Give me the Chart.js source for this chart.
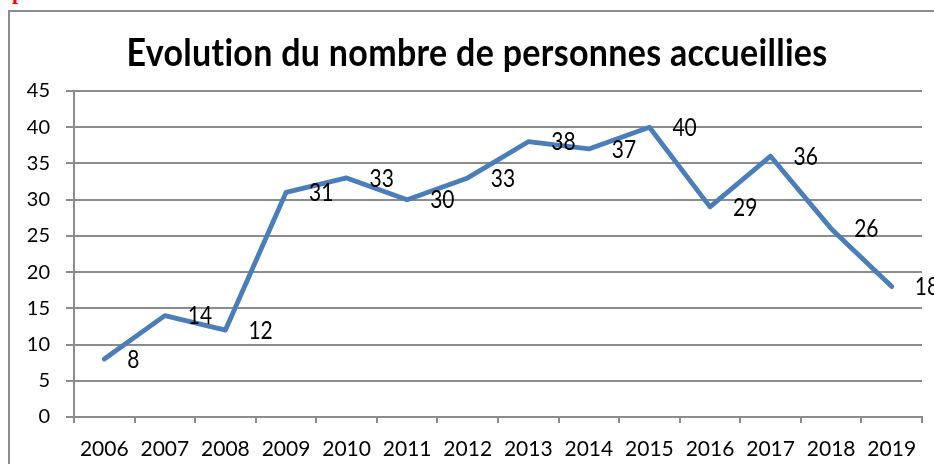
<!DOCTYPE html>
<html lang="fr">
<head>
<meta charset="utf-8">
<title>Evolution du nombre de personnes accueillies</title>
<script src="https://cdn.jsdelivr.net/npm/chart.js@4"></script>
<style>
    html, body { margin: 0; padding: 0; background: #fff; }
    body { width: 934px; height: 464px; position: relative; overflow: hidden; }
    #frame {
        position: absolute; left: 8px; top: 10px; width: 1000px; height: 500px;
        border-left: 2px solid #8c8c8c; border-top: 2px solid #8c8c8c;
    }
    #mark {
        position: absolute; left: 12px; top: -21px;
        font: bold 22px "Liberation Serif", serif; color: #ff0000;
    }
    #chart { position: absolute; left: 0; top: 0; }
</style>
</head>
<body>
<div id="mark">p</div>
<div id="frame"></div>
<canvas id="chart" width="934" height="464"></canvas>
<script>
    // Years on the horizontal axis and number of people welcomed each year
    const years = ['2006', '2007', '2008', '2009', '2010', '2011', '2012',
                   '2013', '2014', '2015', '2016', '2017', '2018', '2019'];
    const persons = [8, 14, 12, 31, 33, 30, 33, 38, 37, 40, 29, 36, 26, 18];
    const yTicks = [0, 5, 10, 15, 20, 25, 30, 35, 40, 45];
    const chartTitle = 'Evolution du nombre de personnes accueillies';

    const lineColor = '#4a7ebb';
    const gridColor = '#8c8c8c';
    const fontFamily = 'Lato, "Open Sans", sans-serif';

    // Title centred above the plot, slightly tall glyphs, no "ti" ligature
    const titleText = {
        id: 'titleText',
        afterDraw(chart) {
            const ctx = chart.ctx;
            ctx.save();
            ctx.font = 'bold 34px ' + fontFamily;
            ctx.letterSpacing = '0.3px';
            ctx.fillStyle = '#000';
            ctx.textAlign = 'center';
            ctx.textBaseline = 'alphabetic';
            ctx.translate(477, 66);
            ctx.scale(1, 1.12);
            ctx.fillText(chartTitle, 0, 0);
            ctx.restore();
        }
    };

    // Writes each value to the right of its point
    const valueLabels = {
        id: 'valueLabels',
        afterDatasetsDraw(chart) {
            const ctx = chart.ctx;
            const meta = chart.getDatasetMeta(0);
            ctx.save();
            ctx.font = '21px ' + fontFamily;
            ctx.fillStyle = '#000';
            ctx.textAlign = 'left';
            ctx.textBaseline = 'middle';
            meta.data.forEach(function(pt, i) {
                ctx.save();
                ctx.translate(pt.x + 23, pt.y + 1);
                ctx.scale(1, 1.15);
                ctx.fillText(String(persons[i]), 0, 0);
                ctx.restore();
            });
            ctx.restore();
        }
    };

    new Chart(document.getElementById('chart'), {
        type: 'line',
        data: {
            labels: years,
            datasets: [{
                data: persons,
                borderColor: lineColor,
                borderWidth: 4.8,
                borderCapStyle: 'round',
                borderJoinStyle: 'round',
                pointRadius: 0,
                pointHoverRadius: 0,
                tension: 0,
                fill: false
            }]
        },
        options: {
            responsive: false,
            animation: false,
            layout: {
                padding: { left: 0, right: 12, top: 91, bottom: 0 }
            },
            plugins: {
                legend: { display: false },
                tooltip: { enabled: false },
                title: { display: false }
            },
            scales: {
                x: {
                    offset: true,
                    grid: {
                        offset: true,
                        drawOnChartArea: false,
                        drawTicks: true,
                        tickLength: 6,
                        color: gridColor,
                        lineWidth: 2
                    },
                    border: { display: true, color: gridColor, width: 2 },
                    ticks: {
                        color: '#000',
                        font: { family: fontFamily, size: 21 },
                        padding: 14,
                        maxRotation: 0,
                        autoSkip: false
                    },
                    afterFit(scale) { scale.height = 47; }
                },
                y: {
                    min: 0,
                    max: 45,
                    afterBuildTicks(scale) {
                        scale.ticks = yTicks.map(v => ({ value: v }));
                    },
                    grid: {
                        drawTicks: true,
                        tickLength: 8,
                        color: gridColor,
                        lineWidth: 2
                    },
                    border: { display: true, color: gridColor, width: 2 },
                    ticks: {
                        color: '#000',
                        font: { family: fontFamily, size: 20 },
                        padding: 16
                    },
                    afterFit(scale) { scale.width = 74; }
                }
            }
        },
        plugins: [valueLabels, titleText]
    });
</script>
</body>
</html>
